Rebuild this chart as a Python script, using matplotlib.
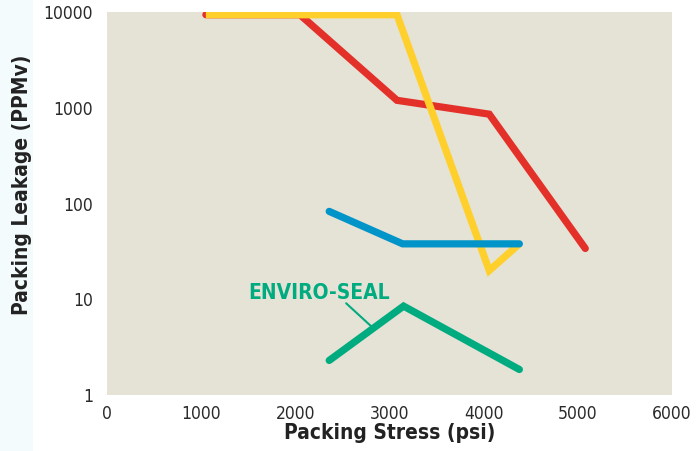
import matplotlib
matplotlib.use("Agg")
import matplotlib.pyplot as plt
from matplotlib.patches import Rectangle
from matplotlib.ticker import FixedLocator, FixedFormatter

# packing stress (psi) vs packing leakage (ppmv)
red_x = [1050, 2050, 3080, 4060, 5080]
red_y = [9400, 9400, 1200, 860, 34]

yellow_x = [1050, 3080, 4060, 4380]
yellow_y = [9400, 9400, 20, 38]

blue_x = [2360, 3140, 4380]
blue_y = [83, 38, 38]

green_x = [2360, 3150, 4380]
green_y = [2.3, 8.5, 1.85]

x_ticks = [0, 1000, 2000, 3000, 4000, 5000, 6000]
y_ticks = [1, 10, 100, 1000, 10000]
y_labels = ['1', '10', '100', '1000', '10000']

bg = '#E5E2D6'
font = 'DejaVu Sans'
cond = 'condensed'

fig = plt.figure(figsize=(6.97, 4.51), dpi=100)
fig.patch.set_facecolor('white')
# pale strip on the far left
fig.patches.append(Rectangle((0, 0), 0.048, 1, transform=fig.transFigure,
                             facecolor='#F4FBFD', edgecolor='none', zorder=-1))
ax = fig.add_axes([0.1535, 0.124, 0.8105, 0.849])
ax.set_facecolor(bg)

lw = 5.2
ax.plot(red_x, red_y, color='#E3312A', lw=lw, solid_capstyle='round', solid_joinstyle='miter')
ax.plot(yellow_x, yellow_y, color='#FFD02C', lw=lw, solid_capstyle='butt', solid_joinstyle='miter')
ax.plot(blue_x, blue_y, color='#0094C8', lw=lw, solid_capstyle='round', solid_joinstyle='miter')
ax.plot(green_x, green_y, color='#00AB80', lw=lw, solid_capstyle='round', solid_joinstyle='miter')

ax.set_yscale('log')
ax.set_xlim(0, 6000)
ax.set_ylim(1, 10000)
ax.xaxis.set_major_locator(FixedLocator(x_ticks))
ax.yaxis.set_major_locator(FixedLocator(y_ticks))
ax.yaxis.set_major_formatter(FixedFormatter(y_labels))
ax.yaxis.set_minor_locator(FixedLocator([]))
ax.tick_params(length=0, labelsize=12.5, labelcolor='#2a2a2a')
ax.tick_params(axis='y', pad=10)
ax.tick_params(axis='x', pad=7)
for lab in ax.get_xticklabels() + ax.get_yticklabels():
    lab.set_family(font)
    lab.set_stretch(cond)
for s in ax.spines.values():
    s.set_visible(False)

ax.set_xlabel('Packing Stress (psi)', fontsize=15, fontweight='bold', family=font,
              stretch=cond, color='#222222', labelpad=0)
ax.set_ylabel('Packing Leakage (PPMv)', fontsize=15, fontweight='bold', family=font,
              stretch=cond, color='#222222')
ax.yaxis.set_label_coords(-0.133, 0.55)

ax.text(1500, 11.6, 'ENVIRO-SEAL', fontsize=15, fontweight='bold', family=font,
        stretch=cond, color='#00AB80', ha='left', va='center')
ax.annotate('', xy=(2800, 5.3), xytext=(2540, 9.1),
            arrowprops=dict(arrowstyle='-', color='#00AB80', lw=1.5,
                            shrinkA=0, shrinkB=0))

fig.savefig('out.png', dpi=100)
